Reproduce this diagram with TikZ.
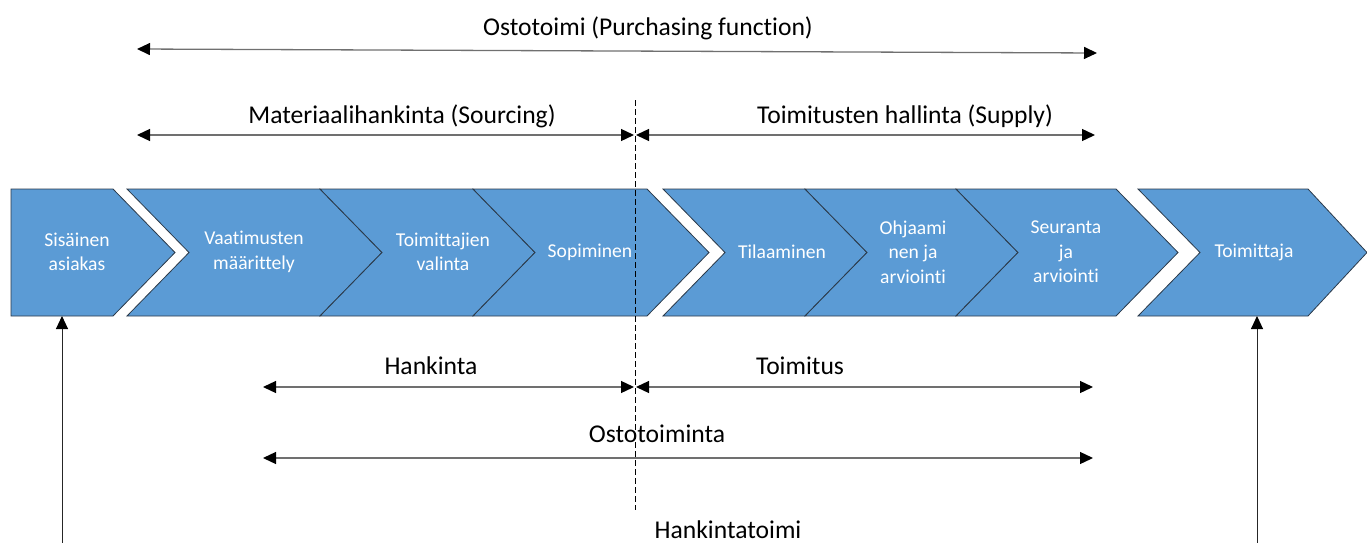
\documentclass[tikz,border=0pt]{standalone}
\usepackage{fontspec}
\setmainfont{Carlito}[Ligatures=CommonOff]
\usetikzlibrary{arrows.meta}
\definecolor{stepblue}{HTML}{5B9BD5}
\definecolor{stepedge}{HTML}{2B3A4A}
\definecolor{spanline}{HTML}{707070}
% one chevron of the process band: left edge, right edge, notch depth at the left
\newcommand\stepchevron[3]{%
  \path[chev] (#1,189) -- (#2,189) -- (#2+62,252.5) -- (#2,316) -- (#1,316) -- (#1+#3,252.5) -- cycle;}
\begin{document}
\begin{tikzpicture}[x=1pt,y=-1pt,
  chev/.style={fill=stepblue, draw=stepedge, line width=0.8pt, line join=miter},
  steptext/.style={text=white, align=center, font=\fontsize{19.6}{24.5}\selectfont, inner sep=0pt},
  spanlabel/.style={font=\fontsize{25.6}{30}\selectfont, anchor=base, inner sep=0pt},
  span/.style={draw=spanline, line width=1.3pt, {Triangle[length=13pt,width=12pt,color=black]}-{Triangle[length=13pt,width=12pt,color=black]}},
  rise/.style={draw=black!85, line width=1pt, -{Triangle[length=13pt,width=12pt,color=black]}},
  divider/.style={draw=black, line width=1pt, dash pattern=on 6pt off 3pt}]
\useasboundingbox (0,0) rectangle (1367,543);

% process band
\stepchevron{11}{113}{0}
\stepchevron{127}{320}{62}
\stepchevron{320}{473}{62}
\stepchevron{473}{647}{62}
\stepchevron{663}{805}{62}
\stepchevron{805}{956}{62}
\stepchevron{956}{1116}{62}
\path[chev] (1138,189) -- (1308,189) -- (1367,252.5) -- (1308,316) -- (1138,316) -- (1200,252.5) -- cycle;

\node[steptext] (s1) at (77,252) {Sisäinen\\asiakas};
\node[steptext] (s2) at (254,252) {Vaatimusten\\määrittely};
\node[steptext] (s3) at (443,252) {Toimittajien\\valinta};
\node[steptext] (s4) at (590,252) {Sopiminen};
\node[steptext] (s5) at (782,252) {Tilaaminen};
\node[steptext] (s6) at (913,252) {Ohjaami\\nen ja\\arviointi};
\node[steptext] (s7) at (1066,252) {Seuranta\\ja\\arviointi};
\node[steptext] (s8) at (1254,252) {Toimittaja};

% dashed split between sourcing and supply
\coordinate (divtop) at (635,100);
\coordinate (divbot) at (635,510);
\draw[divider] (divtop) -- (divbot);

% span end points
\coordinate (pf-l) at (137,49);   \coordinate (pf-r) at (1097,53);
\coordinate (so-l) at (137,135);  \coordinate (so-r) at (634,135);
\coordinate (su-l) at (636,135);  \coordinate (su-r) at (1095,135);
\coordinate (ha-l) at (263,387);  \coordinate (ha-r) at (634,387);
\coordinate (to-l) at (636,387);  \coordinate (to-r) at (1093,387);
\coordinate (ot-l) at (263,458);  \coordinate (ot-r) at (1093,458);

\draw[span] (pf-l) -- (pf-r);
\draw[span] (so-l) -- (so-r);
\draw[span] (su-l) -- (su-r);
\draw[span] (ha-l) -- (ha-r);
\draw[span] (to-l) -- (to-r);
\draw[span] (ot-l) -- (ot-r);

% span labels
\node[spanlabel] (lpf) at (648,36) {Ostotoimi (Purchasing function)};
\node[spanlabel] (lso) at (402,123) {Materiaalihankinta (Sourcing)};
\node[spanlabel] (lsu) at (905,123) {Toimitusten hallinta (Supply)};
\node[spanlabel] (lha) at (431,374) {Hankinta};
\node[spanlabel] (lto) at (800,374) {Toimitus};
\node[spanlabel] (lot) at (657,442) {Ostotoiminta};
\node[spanlabel] (lht) at (728,538) {Hankintatoimi};

% links from below into the two end steps
\coordinate (inbase) at (62,543);   \coordinate (s1foot) at (62,316);
\coordinate (outbase) at (1257,543); \coordinate (s8foot) at (1257,316);
\draw[rise] (inbase) -- (s1foot);
\draw[rise] (outbase) -- (s8foot);
\end{tikzpicture}
\end{document}
